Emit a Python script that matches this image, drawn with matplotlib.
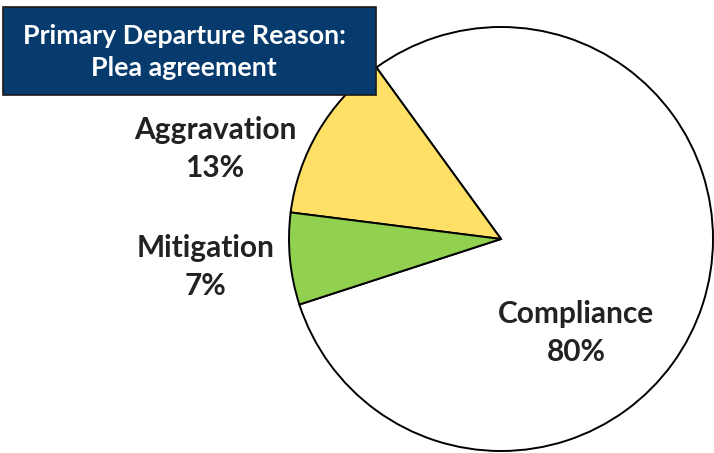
import matplotlib
matplotlib.use("Agg")
from matplotlib import pyplot as plt
from matplotlib.patches import Rectangle

# data
categories = ["Compliance", "Aggravation", "Mitigation"]
percents = [80, 13, 7]
colors = ["#FFFFFF", "#FFE066", "#92D050"]
title_lines = ["Primary Departure Reason:", "Plea agreement"]

plt.rcParams['font.family'] = ['Lato', 'DejaVu Sans']

fig = plt.figure(figsize=(7.14, 4.53), dpi=100)
ax = fig.add_axes([0, 0, 1, 1])

ax.pie(percents, colors=colors, startangle=198, counterclock=True,
       center=(501, 214), radius=212, frame=True,
       wedgeprops=dict(edgecolor='black', linewidth=1.4))
ax.set_xlim(0, 714)
ax.set_ylim(0, 453)
ax.set_aspect('equal')
ax.axis('off')

# label positions (y up)
label_pos = {"Compliance": (576, 120), "Aggravation": (215, 304), "Mitigation": (206, 186)}
for name, pct in zip(categories, percents):
    x, y = label_pos[name]
    ax.text(x, y, f"{name}\n{pct}%", ha='center', va='center', fontsize=21.5,
            fontweight='bold', color='#222222', linespacing=1.42)

# title box
ax.add_patch(Rectangle((3, 453 - 95), 373, 88, facecolor='#073A6D',
                       edgecolor='#1a1a1a', linewidth=1.2, zorder=5))
ax.text(184, 453 - 52, "\n".join(title_lines), ha='center', va='center',
        fontsize=19.3, fontweight='bold', color='white', linespacing=1.42, zorder=6)

plt.savefig("out.png", dpi=100)
